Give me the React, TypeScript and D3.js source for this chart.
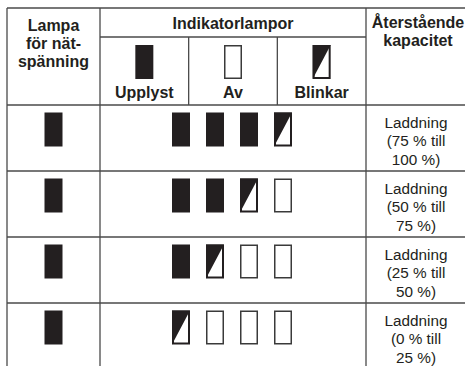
import React, { useEffect, useRef } from "react";
import * as d3 from "d3";

type LampState = "on" | "off" | "blink";

const mainsLamp: LampState[] = ["on", "on", "on", "on"];
const indicatorRows: LampState[][] = [
  ["on", "on", "on", "blink"],
  ["on", "on", "blink", "off"],
  ["on", "blink", "off", "off"],
  ["blink", "off", "off", "off"],
];
const capacityLabels: string[][] = [
  ["Laddning", "(75 % till", "100 %)"],
  ["Laddning", "(50 % till", "75 %)"],
  ["Laddning", "(25 % till", "50 %)"],
  ["Laddning", "(0 % till", "25 %)"],
];
const legendStates: LampState[] = ["on", "off", "blink"];
const legendLabels = ["Upplyst", "Av", "Blinkar"];
const mainsHeader = ["Lampa", "för nät-", "spänning"];
const capacityHeader = ["Återstående", "kapacitet"];
const groupHeader = "Indikatorlampor";

const INK = "#231f20";
const LINE = "#4a4a4a";
const FONT = "'Liberation Sans', Arial, sans-serif";
const LAMP_W = 18;
const LAMP_H = 34;

const App: React.FC = () => {
  const svgRef = useRef<SVGSVGElement>(null);

  useEffect(() => {
    if (!svgRef.current) return;
    const svg = d3.select(svgRef.current);
    svg.selectAll("*").remove();

    const width = 465;
    const height = 366;

    // column edges: mains | indicators (3 legend sub-cols) | capacity
    const colX = [7, 100, 366, 470];
    const legendX = d3.scaleBand<number>().domain([0, 1, 2]).range([colX[1], colX[2]]);
    const rowY = d3.scaleBand<number>().domain(d3.range(indicatorRows.length)).range([105, 369]);
    const lampX = d3.scalePoint<number>().domain(d3.range(4)).range([181, 283]);
    const mainsCx = (colX[0] + colX[1]) / 2;
    const capCx = 416;

    const drawLamp = (g: d3.Selection<SVGGElement, unknown, null, undefined>, cx: number, y: number, state: LampState) => {
      const x = cx - LAMP_W / 2;
      if (state === "on") {
        g.append("rect").attr("x", x).attr("y", y).attr("width", LAMP_W).attr("height", LAMP_H).attr("fill", INK);
      } else if (state === "off") {
        g.append("rect")
          .attr("x", x + 0.75).attr("y", y + 0.75)
          .attr("width", LAMP_W - 1.5).attr("height", LAMP_H - 1.5)
          .attr("fill", "#fff").attr("stroke", "#3a3a3a").attr("stroke-width", 1.5);
      } else {
        g.append("rect").attr("x", x).attr("y", y).attr("width", LAMP_W).attr("height", LAMP_H).attr("fill", "#fff");
        g.append("path")
          .attr("d", `M${x},${y}L${x + LAMP_W},${y}L${x},${y + LAMP_H}Z`)
          .attr("fill", INK);
        g.append("rect")
          .attr("x", x + 1).attr("y", y + 1)
          .attr("width", LAMP_W - 2).attr("height", LAMP_H - 2)
          .attr("fill", "none").attr("stroke", INK).attr("stroke-width", 2);
      }
    };

    const lines = svg.append("g").attr("stroke", LINE).attr("stroke-width", 1.3).attr("fill", "none");
    // horizontal
    lines.append("line").attr("x1", colX[0]).attr("x2", width).attr("y1", 8).attr("y2", 8);
    lines.append("line").attr("x1", colX[1]).attr("x2", colX[2]).attr("y1", 37).attr("y2", 37);
    rowY.domain().forEach((i) => {
      const y = rowY(i)!;
      lines.append("line").attr("x1", colX[0]).attr("x2", width).attr("y1", y).attr("y2", y);
    });
    // vertical
    [colX[0], colX[1], colX[2]].forEach((x) => {
      lines.append("line").attr("x1", x).attr("x2", x).attr("y1", 8).attr("y2", height);
    });
    [1, 2].forEach((i) => {
      const x = legendX(i)!;
      lines.append("line").attr("x1", x).attr("x2", x).attr("y1", 37).attr("y2", 105);
    });

    const text = svg.append("g").attr("font-family", FONT).attr("fill", INK).attr("text-anchor", "middle");
    const bold = text.append("g").attr("font-weight", "bold").attr("font-size", 16);

    mainsHeader.forEach((t, i) => {
      bold.append("text").attr("x", mainsCx).attr("y", 31 + i * 17.8).text(t);
    });
    bold.append("text").attr("x", (colX[1] + colX[2]) / 2).attr("y", 29).text(groupHeader);
    capacityHeader.forEach((t, i) => {
      bold.append("text").attr("x", capCx + 2).attr("y", 28 + i * 17.5).text(t);
    });

    const lamps = svg.append("g");
    legendStates.forEach((s, i) => {
      const cx = legendX(i)! + legendX.bandwidth() / 2;
      drawLamp(lamps, cx, 45, s);
      bold.append("text").attr("x", cx).attr("y", 98).text(legendLabels[i]);
    });

    const body = text.append("g").attr("font-size", 15.3);
    indicatorRows.forEach((row, r) => {
      const y0 = rowY(r)!;
      drawLamp(lamps, mainsCx, y0 + 7.5, mainsLamp[r]);
      row.forEach((s, k) => drawLamp(lamps, lampX(k)!, y0 + 7.5, s));
      capacityLabels[r].forEach((t, i) => {
        body.append("text").attr("x", capCx).attr("y", y0 + 22.5 + i * 18.7).text(t);
      });
    });
  }, []);

  return (
    <svg
      ref={svgRef}
      width={465}
      height={366}
      style={{ position: "absolute", left: 0, top: 0, background: "#fff" }}
    />
  );
};

export default App;
